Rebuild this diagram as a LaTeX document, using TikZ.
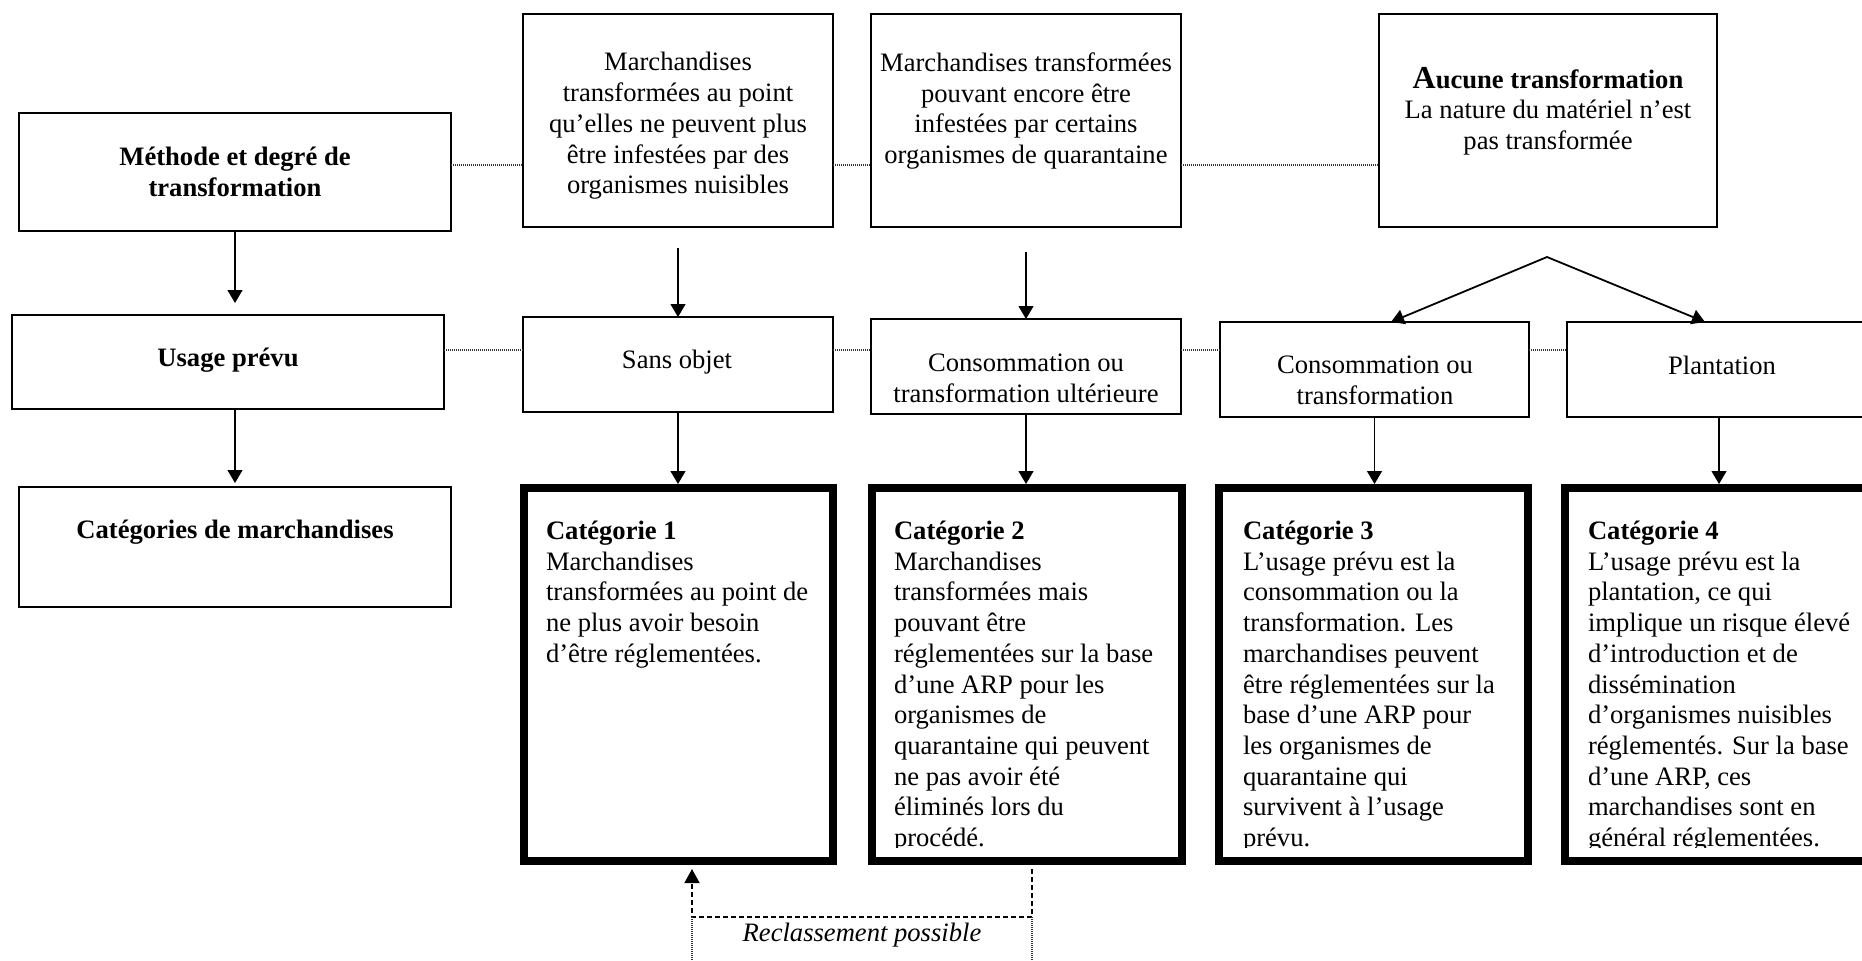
\documentclass[tikz,border=0pt]{standalone}
\usepackage{fontspec}
\setmainfont{Liberation Serif}
\usetikzlibrary{arrows.meta,calc}
\newcommand{\fsz}{\fontsize{13.3}{15.35}\selectfont}
\begin{document}
\begin{tikzpicture}[x=0.5pt,y=-0.5pt,
  every node/.style={inner sep=0pt, outer sep=0pt, font=\fsz},
  thinbox/.style={draw, line width=0.7pt, rectangle},
  catbox/.style={draw, line width=4pt, rectangle},
  arr/.style={-{Triangle[length=6.5pt,width=7.5pt]}, line width=0.6pt},
  varr/.style={{Triangle[length=6.5pt,width=7.5pt]}-{Triangle[length=6.5pt,width=7.5pt]}, line width=0.9pt},
  dasharr/.style={-{Triangle[length=7pt,width=7.5pt]}, line width=0.8pt, dash pattern=on 2.5pt off 1.5pt},
  dotl/.style={black!80, line width=0.6pt, dash pattern=on 0.5pt off 0.5pt},
  ctxt/.style={align=center},
  cattxt/.style={align=left, anchor=north west}
]
\useasboundingbox (0,0) rectangle (1862,960);
\clip (0,0) rectangle (1862,960);

% ---------- boxes ----------
\node[thinbox, minimum width=216pt, minimum height=59pt] (meth) at (235,172) {};
\node[thinbox, minimum width=155pt, minimum height=106.5pt] (boxA) at (678,120.5) {};
\node[thinbox, minimum width=155pt, minimum height=106.5pt] (boxB) at (1026,120.5) {};
\node[thinbox, minimum width=169pt, minimum height=106.5pt] (boxC) at (1548,120.5) {};

\node[thinbox, minimum width=216pt, minimum height=47pt] (usage) at (228,362) {};
\node[thinbox, minimum width=155pt, minimum height=47.5pt] (sans) at (678,364.5) {};
\node[thinbox, minimum width=155pt, minimum height=47.5pt] (consoU) at (1026,366.5) {};
\node[thinbox, minimum width=154.5pt, minimum height=47.5pt] (consoT) at (1374.5,369.5) {};
\node[thinbox, minimum width=166.5pt, minimum height=47.5pt] (plant) at (1733.5,369.5) {};

\node[thinbox, minimum width=216pt, minimum height=60pt] (catm) at (235,547) {};
\node[catbox, minimum width=154.5pt, minimum height=186.5pt] (cat1) at (678.5,674.5) {};
\node[catbox, minimum width=155pt, minimum height=186.5pt] (cat2) at (1027,674.5) {};
\node[catbox, minimum width=154.5pt, minimum height=186.5pt] (cat3) at (1373.5,674.5) {};
\node[catbox, minimum width=167.5pt, minimum height=186.5pt] (cat4) at (1732.5,674.5) {};

% ---------- texts ----------
\node[ctxt, font=\fsz\bfseries] (tMeth) at (235,172) {Méthode et degré de\\transformation};
\node[ctxt] (tA) at (678,126) {Marchandises\\transformées au point\\qu’elles ne peuvent plus\\être infestées par des\\organismes nuisibles};
\node[ctxt] (tB) at (1026,111) {Marchandises transformées\\pouvant encore être\\infestées par certains\\organismes de quarantaine};
\node[ctxt] (tC) at (1548,111) {\textbf{{\fontsize{16}{16}\selectfont A}ucune transformation}\\La nature du matériel n’est\\pas transformée};

\node[ctxt, font=\fsz\bfseries] (tUsage) at (228,360) {Usage prévu};
\node[ctxt] (tSans) at (677,362) {Sans objet};
\node[ctxt] (tConsoU) at (1026,378) {Consommation ou\\transformation ultérieure};
\node[ctxt] (tConsoT) at (1375,380) {Consommation ou\\transformation};
\node[ctxt] (tPlant) at (1722,365) {Plantation};

\node[ctxt, font=\fsz\bfseries] (tCatm) at (235,532) {Catégories de marchandises};

\begin{scope}
\clip (500,470) rectangle (1900,847);
\node[cattxt] (tCat1) at (546,521) {\textbf{Catégorie 1}\\Marchandises\\transformées au point de\\ne plus avoir besoin\\d’être réglementées.};
\node[cattxt] (tCat2) at (894,521) {\textbf{Catégorie 2}\\Marchandises\\transformées mais\\pouvant être\\réglementées sur la base\\d’une ARP pour les\\organismes de\\quarantaine qui peuvent\\ne pas avoir été\\éliminés lors du\\procédé.};
\node[cattxt] (tCat3) at (1243,521) {\textbf{Catégorie 3}\\L’usage prévu est la\\consommation ou la\\transformation. Les\\marchandises peuvent\\être réglementées sur la\\base d’une ARP pour\\les organismes de\\quarantaine qui\\survivent à l’usage\\prévu.};
\node[cattxt] (tCat4) at (1588,521) {\textbf{Catégorie 4}\\L’usage prévu est la\\plantation, ce qui\\implique un risque élevé\\d’introduction et de\\dissémination\\d’organismes nuisibles\\réglementés. Sur la base\\d’une ARP, ces\\marchandises sont en\\général réglementées.};
\end{scope}

% ---------- dotted links ----------
\coordinate (r1) at (0,165);
\coordinate (r2) at (0,350);
\draw[dotl] (meth.east |- r1) -- (boxA.west |- r1);
\draw[dotl] (boxA.east |- r1) -- (boxB.west |- r1);
\draw[dotl] (boxB.east |- r1) -- (boxC.west |- r1);
\draw[dotl] (usage.east |- r2) -- (sans.west |- r2);
\draw[dotl] (sans.east |- r2) -- (consoU.west |- r2);
\draw[dotl] (consoU.east |- r2) -- (consoT.west |- r2);
\draw[dotl] (consoT.east |- r2) -- (plant.west |- r2);

% ---------- arrows ----------
\draw[arr, shorten >=6pt] (meth.south) -- (meth.south |- usage.north);
\draw[arr, shorten <=10.5pt] (boxA.south) -- (sans.north);
\draw[arr, shorten <=12.5pt] (boxB.south) -- (consoU.north);
\coordinate (vtop) at (1547,257);
\draw[varr] ([xshift=8.25pt]consoT.north) -- (vtop) -- ([xshift=69pt]plant.north west);

\draw[arr, shorten >=2pt] (catm.north |- usage.south) -- (catm.north);
\draw[arr, shorten >=2pt] (sans.south) -- (sans.south |- cat1.north);
\draw[arr, shorten >=2pt] (consoU.south) -- (consoU.south |- cat2.north);
\draw[arr, shorten >=2pt] (consoT.south) -- (consoT.south |- cat3.north);
\draw[arr, shorten >=2pt] ([xshift=76pt]plant.south west) -- ([xshift=76pt]plant.south west |- cat4.north);

% ---------- reclassement ----------
\coordinate (rcA) at (1032,917);
\coordinate (rcB) at (692,917);
\coordinate (rcAb) at (1032,960);
\coordinate (rcBb) at (692,960);
\draw[dasharr, shorten <=4pt, shorten >=4pt] (cat2.south -| rcA) -- (rcA) -- (rcB) -- (cat1.south -| rcB);
\draw[dotl] (rcA) -- (rcAb);
\draw[dotl] (rcB) -- (rcBb);
\node[font=\fsz\itshape] (tRec) at (862,935) {Reclassement possible};
\end{tikzpicture}
\end{document}
